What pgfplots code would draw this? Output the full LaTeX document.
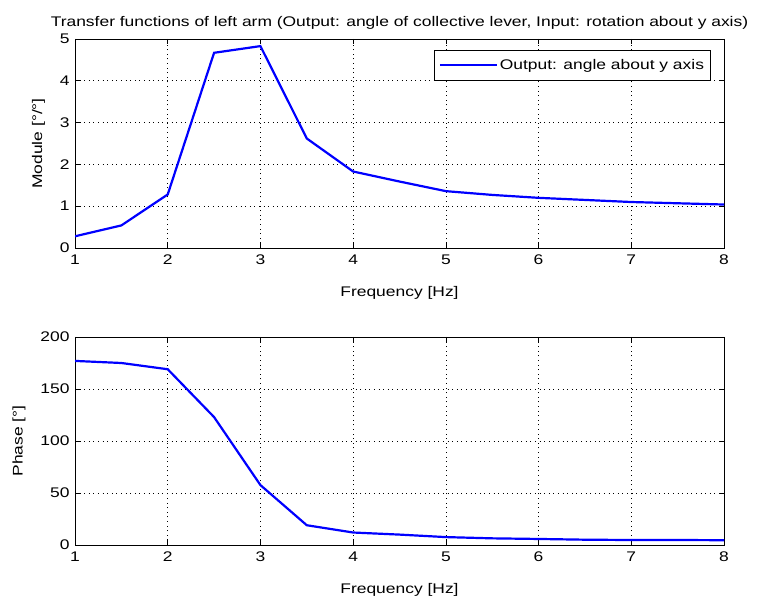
\documentclass[border=0pt]{standalone}
\usepackage{fontspec}
\setmainfont{Liberation Sans}[FakeStretch=1.25]
\usepackage{pgfplots}
\pgfplotsset{compat=1.18}
\begin{document}
\begin{tikzpicture}
\useasboundingbox (0bp,0bp) rectangle (759bp,605bp);
\pgfplotsset{
  every axis/.style={
    scale only axis,
    width=649bp,
    xmin=1, xmax=8,
    xtick={1,2,3,4,5,6,7,8},
    grid=major,
    major grid style={black, line width=0.6pt, dash pattern=on 1bp off 3.6bp},
    tick align=inside,
    major tick length=5bp,
    axis line style={black, line width=0.7pt},
    every tick/.style={black, line width=0.7pt},
    tick label style={font=\fontsize{14}{16}\selectfont},
    xticklabel style={yshift=-3bp},
    yticklabel style={xshift=-2bp},
    label style={font=\fontsize{14}{16}\selectfont},
    /pgf/number format/assume math mode=true,
    xlabel={Frequency [Hz]},
    xlabel style={yshift=-15bp},
    ylabel style={yshift=8bp},
  }
}
\begin{axis}[
  at={(75bp,357bp)}, anchor=south west,
  height=209bp,
  ymin=0, ymax=5, ytick={0,1,2,3,4,5},
  ylabel={Module [°/°]},
  title={Transfer functions of left arm (Output: angle of collective lever, Input: rotation about y axis)},
  title style={font=\fontsize{14}{16}\selectfont, yshift=0bp},
  legend style={at={(0.979,0.947)}, anchor=north east, draw=black, line width=0.7pt,
    font=\fontsize{14}{16}\selectfont, inner xsep=4bp, inner ysep=7bp, legend cell align=left},
  legend image code/.code={\draw[#1] (0bp,0bp) -- (57bp,0bp);},
]
\addplot[blue, line width=2.2bp] coordinates {
(1,0.28) (1.5,0.54) (2,1.28) (2.5,4.67) (3,4.83) (3.5,2.62) (4,1.83) (4.5,1.59)
(5,1.36) (5.5,1.27) (6,1.2) (6.5,1.15) (7,1.1) (7.5,1.07) (8,1.04)
};
\addlegendentry{Output: angle about y axis}
\end{axis}
\begin{axis}[
  at={(75bp,60bp)}, anchor=south west,
  height=208bp,
  ymin=0, ymax=200, ytick={0,50,100,150,200},
  ylabel={Phase [°]},
]
\addplot[blue, line width=2.2bp] coordinates {
(1,177) (1.5,175) (2,169) (2.5,123) (3,57.6) (3.5,19) (4,12) (4.5,10)
(5,7.6) (5.5,6.4) (6,5.8) (6.5,5.1) (7,4.8) (7.5,4.8) (8,4.6)
};
\end{axis}
\end{tikzpicture}
\end{document}
